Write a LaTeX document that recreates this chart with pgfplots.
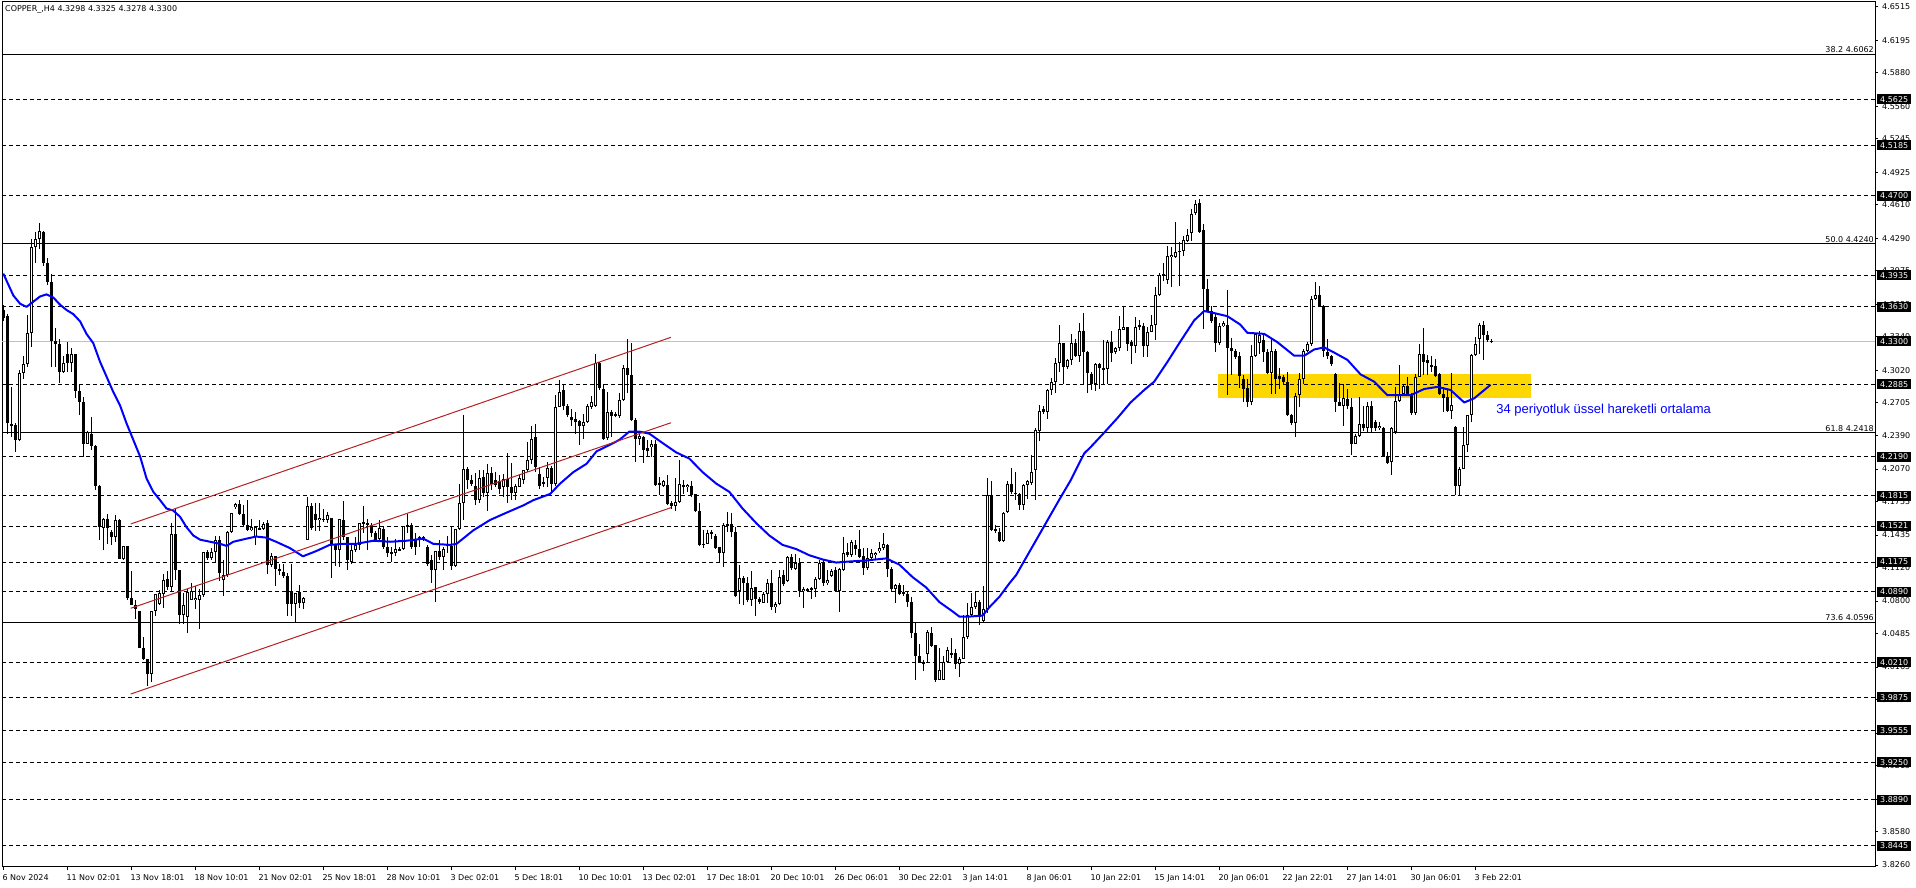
\documentclass[border=0pt]{standalone}
\usepackage{fontspec}
\setmainfont{DejaVu Sans}
\newfontfamily\notefont{Liberation Sans}
\usepackage{pgfplots}
\usepackage{pgfplotstable}
\pgfplotsset{compat=1.18}

\definecolor{emablue}{RGB}{0,0,255}
\definecolor{zonegold}{RGB}{255,215,0}
\definecolor{chanred}{RGB}{178,34,34}
\definecolor{pricegray}{RGB}{192,192,192}

% COPPER H4 candles: bar index, open, high, low, close
\pgfplotstableread{
i o h l c
0 4.360 4.365 4.349 4.352
1 4.354 4.356 4.241 4.251
2 4.250 4.286 4.238 4.249
3 4.249 4.251 4.223 4.235
4 4.235 4.302 4.234 4.299
5 4.299 4.316 4.294 4.308
6 4.308 4.355 4.305 4.338
7 4.338 4.428 4.324 4.421
8 4.421 4.435 4.405 4.428
9 4.428 4.444 4.419 4.436
10 4.435 4.436 4.402 4.405
11 4.405 4.410 4.384 4.387
12 4.387 4.395 4.305 4.330
13 4.330 4.343 4.305 4.327
14 4.327 4.332 4.290 4.300
15 4.300 4.316 4.299 4.309
16 4.318 4.329 4.300 4.309
17 4.309 4.323 4.300 4.318
18 4.318 4.318 4.275 4.282
19 4.282 4.288 4.259 4.271
20 4.271 4.276 4.219 4.231
21 4.231 4.244 4.231 4.243
22 4.241 4.257 4.225 4.229
23 4.229 4.230 4.187 4.191
24 4.191 4.192 4.139 4.151
25 4.150 4.160 4.129 4.159
26 4.159 4.164 4.135 4.150
27 4.146 4.148 4.134 4.142
28 4.142 4.163 4.137 4.158
29 4.158 4.159 4.120 4.120
30 4.120 4.133 4.119 4.133
31 4.133 4.133 4.081 4.083
32 4.083 4.109 4.076 4.076
33 4.076 4.081 4.063 4.072
34 4.070 4.070 4.035 4.035
35 4.035 4.045 4.023 4.024
36 4.024 4.024 3.998 4.010
37 4.010 4.070 4.002 4.070
38 4.070 4.087 4.066 4.087
39 4.077 4.091 4.076 4.088
40 4.087 4.106 4.073 4.100
41 4.101 4.109 4.091 4.093
42 4.093 4.155 4.089 4.144
43 4.144 4.169 4.100 4.110
44 4.110 4.110 4.058 4.067
45 4.067 4.088 4.058 4.076
46 4.065 4.092 4.049 4.089
47 4.081 4.097 4.081 4.090
48 4.081 4.094 4.072 4.083
49 4.081 4.092 4.053 4.086
50 4.086 4.127 4.084 4.127
51 4.127 4.129 4.119 4.121
52 4.121 4.131 4.119 4.127
53 4.127 4.143 4.118 4.139
54 4.139 4.143 4.099 4.107
55 4.100 4.119 4.085 4.105
56 4.105 4.147 4.103 4.146
57 4.146 4.165 4.145 4.165
58 4.170 4.174 4.169 4.173
59 4.173 4.177 4.163 4.164
60 4.164 4.172 4.152 4.153
61 4.153 4.177 4.147 4.148
62 4.148 4.159 4.147 4.151
63 4.142 4.151 4.134 4.151
64 4.150 4.158 4.148 4.149
65 4.149 4.156 4.148 4.154
66 4.155 4.158 4.106 4.115
67 4.115 4.126 4.113 4.123
68 4.123 4.123 4.094 4.111
69 4.111 4.116 4.105 4.109
70 4.108 4.116 4.102 4.104
71 4.104 4.107 4.066 4.077
72 4.089 4.116 4.066 4.077
73 4.077 4.088 4.059 4.088
74 4.089 4.095 4.073 4.078
75 4.078 4.084 4.072 4.083
76 4.139 4.180 4.139 4.171
77 4.171 4.174 4.148 4.150
78 4.164 4.174 4.147 4.158
79 4.158 4.174 4.147 4.160
80 4.159 4.169 4.156 4.158
81 4.158 4.166 4.155 4.163
82 4.160 4.160 4.102 4.134
83 4.134 4.135 4.114 4.129
84 4.129 4.159 4.113 4.159
85 4.158 4.176 4.139 4.142
86 4.142 4.142 4.110 4.119
87 4.118 4.135 4.116 4.129
88 4.129 4.142 4.127 4.134
89 4.134 4.155 4.129 4.155
90 4.155 4.171 4.145 4.156
91 4.155 4.159 4.129 4.153
92 4.153 4.155 4.142 4.145
93 4.145 4.147 4.137 4.139
94 4.140 4.158 4.138 4.150
95 4.149 4.151 4.130 4.132
96 4.132 4.142 4.122 4.126
97 4.127 4.132 4.118 4.126
98 4.126 4.140 4.123 4.130
99 4.130 4.132 4.128 4.129
100 4.130 4.152 4.129 4.152
101 4.153 4.164 4.145 4.152
102 4.153 4.155 4.130 4.132
103 4.139 4.145 4.124 4.132
104 4.139 4.143 4.132 4.142
105 4.142 4.143 4.138 4.139
106 4.132 4.134 4.114 4.116
107 4.119 4.124 4.097 4.110
108 4.110 4.128 4.079 4.128
109 4.128 4.139 4.119 4.122
110 4.122 4.132 4.110 4.130
111 4.135 4.143 4.126 4.133
112 4.133 4.151 4.110 4.114
113 4.114 4.149 4.113 4.149
114 4.149 4.193 4.148 4.174
115 4.174 4.259 4.158 4.207
116 4.207 4.209 4.188 4.196
117 4.196 4.201 4.191 4.193
118 4.191 4.203 4.172 4.177
119 4.177 4.206 4.174 4.198
120 4.199 4.206 4.180 4.184
121 4.184 4.212 4.167 4.203
122 4.203 4.209 4.187 4.193
123 4.196 4.204 4.190 4.192
124 4.195 4.201 4.183 4.188
125 4.190 4.202 4.180 4.197
126 4.197 4.222 4.174 4.190
127 4.190 4.213 4.177 4.184
128 4.184 4.193 4.177 4.191
129 4.190 4.201 4.190 4.198
130 4.196 4.206 4.193 4.206
131 4.206 4.233 4.204 4.216
132 4.216 4.248 4.212 4.236
133 4.238 4.250 4.204 4.209
134 4.202 4.209 4.188 4.191
135 4.194 4.199 4.190 4.193
136 4.198 4.214 4.190 4.208
137 4.208 4.210 4.183 4.193
138 4.193 4.278 4.191 4.267
139 4.267 4.293 4.267 4.281
140 4.283 4.289 4.264 4.268
141 4.268 4.270 4.257 4.259
142 4.257 4.265 4.248 4.254
143 4.255 4.262 4.241 4.252
144 4.253 4.254 4.230 4.248
145 4.248 4.260 4.236 4.252
146 4.252 4.270 4.251 4.268
147 4.267 4.277 4.265 4.271
148 4.268 4.318 4.267 4.309
149 4.309 4.310 4.283 4.285
150 4.284 4.289 4.235 4.236
151 4.237 4.281 4.235 4.262
152 4.262 4.264 4.238 4.258
153 4.260 4.262 4.257 4.258
154 4.258 4.280 4.256 4.273
155 4.273 4.307 4.272 4.304
156 4.304 4.332 4.280 4.297
157 4.297 4.328 4.253 4.254
158 4.254 4.256 4.214 4.236
159 4.236 4.242 4.230 4.239
160 4.238 4.239 4.213 4.225
161 4.227 4.235 4.219 4.224
162 4.228 4.235 4.219 4.231
163 4.231 4.235 4.191 4.192
164 4.193 4.199 4.182 4.192
165 4.191 4.196 4.190 4.195
166 4.192 4.201 4.172 4.173
167 4.174 4.176 4.169 4.171
168 4.171 4.198 4.167 4.175
169 4.175 4.216 4.174 4.193
170 4.192 4.196 4.183 4.190
171 4.190 4.193 4.185 4.192
172 4.191 4.195 4.180 4.182
173 4.183 4.183 4.166 4.167
174 4.167 4.174 4.133 4.134
175 4.134 4.148 4.131 4.135
176 4.135 4.148 4.135 4.145
177 4.146 4.148 4.140 4.144
178 4.143 4.144 4.130 4.131
179 4.132 4.132 4.118 4.126
180 4.126 4.155 4.113 4.153
181 4.153 4.166 4.146 4.154
182 4.154 4.165 4.142 4.146
183 4.146 4.151 4.084 4.085
184 4.090 4.115 4.077 4.102
185 4.102 4.104 4.076 4.097
186 4.097 4.103 4.079 4.081
187 4.081 4.109 4.075 4.093
188 4.093 4.093 4.066 4.082
189 4.082 4.084 4.077 4.079
190 4.078 4.089 4.078 4.087
191 4.087 4.101 4.078 4.097
192 4.097 4.110 4.071 4.074
193 4.074 4.079 4.068 4.077
194 4.077 4.110 4.076 4.103
195 4.105 4.110 4.094 4.096
196 4.099 4.123 4.098 4.122
197 4.122 4.125 4.110 4.112
198 4.111 4.125 4.110 4.117
199 4.117 4.121 4.084 4.090
200 4.090 4.093 4.073 4.092
201 4.092 4.093 4.089 4.090
202 4.092 4.093 4.082 4.091
203 4.092 4.103 4.084 4.101
204 4.101 4.119 4.100 4.117
205 4.117 4.119 4.094 4.097
206 4.097 4.110 4.095 4.100
207 4.104 4.111 4.103 4.109
208 4.110 4.113 4.089 4.090
209 4.090 4.112 4.069 4.111
210 4.110 4.142 4.109 4.126
211 4.127 4.136 4.122 4.124
212 4.124 4.139 4.122 4.137
213 4.134 4.139 4.124 4.130
214 4.130 4.148 4.121 4.122
215 4.123 4.131 4.105 4.112
216 4.112 4.131 4.110 4.121
217 4.121 4.130 4.119 4.126
218 4.124 4.127 4.119 4.126
219 4.128 4.137 4.126 4.131
220 4.131 4.145 4.129 4.135
221 4.134 4.135 4.103 4.111
222 4.111 4.113 4.090 4.092
223 4.092 4.096 4.078 4.095
224 4.095 4.097 4.086 4.087
225 4.089 4.095 4.085 4.087
226 4.087 4.089 4.074 4.079
227 4.079 4.084 4.044 4.049
228 4.049 4.060 4.004 4.027
229 4.027 4.039 4.020 4.020
230 4.021 4.023 4.013 4.020
231 4.029 4.052 4.021 4.050
232 4.049 4.055 4.036 4.037
233 4.038 4.038 4.002 4.004
234 4.004 4.035 4.004 4.014
235 4.004 4.027 4.004 4.021
236 4.021 4.036 4.020 4.033
237 4.030 4.044 4.025 4.029
238 4.030 4.034 4.015 4.019
239 4.019 4.026 4.007 4.024
240 4.024 4.067 4.024 4.045
241 4.045 4.078 4.043 4.067
242 4.067 4.088 4.065 4.074
243 4.074 4.089 4.072 4.079
244 4.079 4.081 4.057 4.065
245 4.061 4.094 4.060 4.072
246 4.072 4.198 4.068 4.182
247 4.182 4.195 4.147 4.148
248 4.149 4.153 4.145 4.147
249 4.146 4.150 4.137 4.138
250 4.138 4.166 4.137 4.165
251 4.166 4.195 4.165 4.193
252 4.193 4.208 4.183 4.185
253 4.184 4.204 4.177 4.183
254 4.183 4.184 4.168 4.172
255 4.172 4.193 4.168 4.192
256 4.192 4.196 4.178 4.195
257 4.194 4.220 4.192 4.204
258 4.206 4.246 4.177 4.245
259 4.244 4.269 4.234 4.263
260 4.265 4.268 4.260 4.262
261 4.262 4.284 4.255 4.283
262 4.283 4.295 4.278 4.291
263 4.291 4.314 4.280 4.309
264 4.309 4.346 4.300 4.328
265 4.328 4.328 4.289 4.305
266 4.305 4.313 4.303 4.312
267 4.312 4.337 4.307 4.328
268 4.328 4.332 4.315 4.316
269 4.316 4.347 4.310 4.340
270 4.340 4.357 4.288 4.320
271 4.320 4.321 4.280 4.299
272 4.298 4.300 4.283 4.289
273 4.289 4.309 4.282 4.308
274 4.308 4.309 4.284 4.304
275 4.304 4.331 4.289 4.303
276 4.303 4.331 4.289 4.329
277 4.329 4.340 4.310 4.319
278 4.320 4.324 4.318 4.323
279 4.323 4.354 4.321 4.342
280 4.341 4.364 4.341 4.344
281 4.344 4.344 4.321 4.327
282 4.329 4.331 4.308 4.325
283 4.325 4.353 4.319 4.344
284 4.344 4.350 4.341 4.345
285 4.345 4.347 4.315 4.325
286 4.325 4.344 4.315 4.339
287 4.339 4.355 4.339 4.346
288 4.346 4.382 4.331 4.374
289 4.374 4.396 4.373 4.394
290 4.395 4.405 4.388 4.393
291 4.389 4.422 4.385 4.412
292 4.411 4.421 4.382 4.413
293 4.411 4.445 4.410 4.416
294 4.416 4.425 4.383 4.417
295 4.417 4.431 4.412 4.427
296 4.426 4.438 4.425 4.432
297 4.434 4.457 4.426 4.452
298 4.453 4.466 4.451 4.462
299 4.463 4.467 4.434 4.435
300 4.437 4.443 4.342 4.380
301 4.380 4.390 4.358 4.359
302 4.359 4.364 4.347 4.349
303 4.353 4.357 4.320 4.328
304 4.328 4.347 4.326 4.345
305 4.345 4.349 4.344 4.347
306 4.346 4.379 4.278 4.323
307 4.323 4.333 4.297 4.321
308 4.321 4.322 4.313 4.315
309 4.316 4.320 4.285 4.296
310 4.294 4.297 4.271 4.284
311 4.285 4.294 4.267 4.271
312 4.271 4.326 4.269 4.316
313 4.316 4.337 4.315 4.337
314 4.328 4.340 4.318 4.336
315 4.331 4.336 4.310 4.320
316 4.320 4.322 4.298 4.299
317 4.299 4.332 4.279 4.321
318 4.321 4.322 4.279 4.294
319 4.296 4.304 4.284 4.294
320 4.296 4.297 4.289 4.291
321 4.291 4.300 4.258 4.259
322 4.259 4.260 4.249 4.251
323 4.251 4.280 4.238 4.277
324 4.278 4.299 4.267 4.294
325 4.294 4.322 4.289 4.321
326 4.321 4.329 4.320 4.327
327 4.327 4.373 4.325 4.371
328 4.371 4.387 4.370 4.374
329 4.374 4.383 4.363 4.364
330 4.364 4.365 4.315 4.321
331 4.320 4.332 4.313 4.316
332 4.316 4.317 4.306 4.308
333 4.298 4.299 4.262 4.271
334 4.271 4.290 4.268 4.268
335 4.268 4.289 4.248 4.275
336 4.274 4.284 4.265 4.268
337 4.267 4.275 4.220 4.231
338 4.231 4.241 4.231 4.239
339 4.239 4.276 4.238 4.250
340 4.250 4.268 4.244 4.246
341 4.246 4.271 4.243 4.268
342 4.268 4.272 4.242 4.246
343 4.252 4.254 4.244 4.246
344 4.246 4.252 4.245 4.248
345 4.246 4.247 4.219 4.220
346 4.220 4.223 4.212 4.213
347 4.214 4.247 4.201 4.246
348 4.243 4.286 4.241 4.272
349 4.272 4.307 4.271 4.278
350 4.279 4.288 4.278 4.287
351 4.287 4.296 4.278 4.279
352 4.278 4.280 4.259 4.261
353 4.261 4.298 4.259 4.296
354 4.296 4.327 4.296 4.318
355 4.318 4.343 4.297 4.310
356 4.312 4.317 4.297 4.309
357 4.307 4.316 4.300 4.306
358 4.306 4.313 4.296 4.296
359 4.298 4.299 4.278 4.279
360 4.279 4.286 4.262 4.275
361 4.276 4.284 4.262 4.263
362 4.263 4.299 4.255 4.269
363 4.247 4.248 4.182 4.191
364 4.191 4.209 4.182 4.207
365 4.207 4.247 4.207 4.230
366 4.230 4.259 4.223 4.259
367 4.259 4.318 4.252 4.317
368 4.317 4.334 4.316 4.327
369 4.332 4.347 4.318 4.346
370 4.346 4.349 4.312 4.336
371 4.336 4.340 4.329 4.331
372 4.3298 4.3325 4.3278 4.3300
}\candles

\begin{document}
\begin{tikzpicture}
\useasboundingbox (-2pt,-21pt) rectangle (1914pt,867pt);
\begin{axis}[
    at={(0pt,0pt)}, anchor=south west,
    scale only axis,
    width=1873pt, height=865pt,
    xmin=-0.325, xmax=467.9,
    ymin=3.8241, ymax=4.6563,
    clip mode=individual,
    axis line style={line width=1pt},
    tick style={black, line width=1pt},
    tick align=outside,
    major tick length=3pt,
    xtick pos=bottom, ytick pos=right,
    yticklabel pos=right,
    xtick={0,16,...,368},
    xticklabels={6 Nov 2024, 11 Nov 02:01, 13 Nov 18:01, 18 Nov 10:01, 21 Nov 02:01, 25 Nov 18:01, 28 Nov 10:01, 3 Dec 02:01, 5 Dec 18:01, 10 Dec 10:01, 13 Dec 02:01, 17 Dec 18:01, 20 Dec 10:01, 26 Dec 06:01, 30 Dec 22:01, 3 Jan 14:01, 8 Jan 06:01, 10 Jan 22:01, 15 Jan 14:01, 20 Jan 06:01, 22 Jan 22:01, 27 Jan 14:01, 30 Jan 06:01, 3 Feb 22:01},
    ytick={4.6515,4.6195,4.5880,4.5560,4.5245,4.4925,4.4610,4.4290,4.3975,4.3655,4.3340,4.3020,4.2705,4.2390,4.2070,4.1755,4.1435,4.1120,4.0800,4.0485,4.0165,3.9850,3.9530,3.9215,3.8895,3.8580,3.8260},
    yticklabels={4.6515,4.6195,4.5880,4.5560,4.5245,4.4925,4.4610,4.4290,4.3975,4.3655,4.3340,4.3020,4.2705,4.2390,4.2070,4.1755,4.1435,4.1120,4.0800,4.0485,4.0165,3.9850,3.9530,3.9215,3.8895,3.8580,3.8260},
    ticklabel style={font=\fontsize{8}{9}\selectfont},
    xticklabel style={anchor=north west, inner sep=0pt, xshift=-1pt, yshift=-4pt},
    yticklabel style={anchor=west, inner sep=0pt, xshift=4pt},
]

% support zone
\addplot[fill=zonegold, draw=none, forget plot] coordinates {(303.7,4.2753) (381.9,4.2753) (381.9,4.2984) (303.7,4.2984)} -- cycle;

% horizontal levels
\pgfplotsinvokeforeach{4.5625,4.5185,4.4700,4.3935,4.3630,4.2885,4.2190,4.1815,4.1521,4.1175,4.0890,4.0210,3.9875,3.9555,3.9250,3.8890,3.8445}{
  \addplot[black, line width=1pt, dash pattern=on 4pt off 3pt, forget plot] coordinates {(-0.325,#1) (467.9,#1)};
}
\pgfplotsinvokeforeach{4.6062,4.4240,4.2418,4.0596}{
  \addplot[black, line width=1pt, forget plot] coordinates {(-0.325,#1) (467.9,#1)};
}
\addplot[pricegray, line width=1pt, forget plot] coordinates {(-0.325,4.3300) (467.9,4.3300)};

% candles: wicks, bodies, hollow up bodies
\addplot[draw=none, mark=none, forget plot,
    error bars/.cd, y dir=both, y explicit, error mark=none,
    error bar style={draw=black, solid, line width=1pt}]
  table[x=i, y expr={(\thisrow{h}+\thisrow{l})/2}, y error expr={(\thisrow{h}-\thisrow{l})/2}] {\candles};
\addplot[draw=none, mark=none, forget plot,
    error bars/.cd, y dir=both, y explicit, error mark=none,
    error bar style={draw=black, solid, line width=3pt}]
  table[x=i, y expr={(\thisrow{o}+\thisrow{c})/2}, y error expr={max(abs(\thisrow{c}-\thisrow{o})/2,0.0006)}] {\candles};
\addplot[draw=none, mark=none, forget plot,
    error bars/.cd, y dir=both, y explicit, error mark=none,
    error bar style={draw=white, solid, line width=1pt}]
  table[x=i, y expr={(\thisrow{o}+\thisrow{c})/2}, y error expr={max((\thisrow{c}-\thisrow{o})/2-0.00096,0)}] {\candles};

% 34 EMA
\addplot[emablue, line width=2pt, mark=none, line join=round] coordinates {
(0,4.395) (2.5,4.374) (4.2,4.366) (5.8,4.363) (7.5,4.368) (9.2,4.373) (10.8,4.375) (12.5,4.372) (14.2,4.365) (15.8,4.360)
(17.5,4.356) (19.2,4.349) (20.8,4.337) (22.5,4.328) (24.2,4.310) (25.8,4.296) (27.5,4.281) (29.2,4.268) (30.8,4.251) (32.5,4.235)
(34.2,4.219) (35.8,4.198) (37.5,4.185) (39.2,4.177) (40.8,4.169) (42.5,4.167) (44.2,4.161) (45.8,4.151) (47.5,4.143) (49.2,4.139)
(51.7,4.137) (54.2,4.135) (55.8,4.133) (57.5,4.137) (60.8,4.140) (63.2,4.142) (65.7,4.141) (68.2,4.137) (71.6,4.131) (74.9,4.123)
(78.2,4.128) (81.6,4.134) (84.9,4.135) (88.2,4.135) (92.5,4.138) (96.7,4.137) (100.8,4.138) (105,4.140) (107.5,4.135) (111.7,4.134)
(113.3,4.135) (117.5,4.148) (121.7,4.158) (125.8,4.165) (130,4.172) (132.5,4.177) (136.7,4.183) (139.2,4.193) (142.5,4.204) (145.8,4.212)
(148.3,4.224) (151.5,4.230) (154,4.235) (156.5,4.243) (159,4.243) (161.5,4.241) (164.8,4.232) (168.2,4.223) (171.5,4.217) (174.8,4.204)
(178.2,4.193) (181.5,4.185) (184.8,4.169) (188.2,4.155) (191.5,4.143) (194.8,4.134) (198.2,4.130) (201.5,4.124) (204.8,4.120) (208.2,4.117)
(211.5,4.118) (215.7,4.119) (220.7,4.121) (224,4.115) (227.3,4.103) (230.7,4.093) (234,4.079) (237.3,4.070) (239,4.065) (241.5,4.065)
(244.8,4.066) (246.5,4.074) (249,4.084) (251.5,4.097) (253.2,4.105) (263.9,4.177) (266.8,4.196) (270.2,4.222) (271.8,4.228) (275.2,4.242)
(278.5,4.256) (281.8,4.271) (285.2,4.283) (287.7,4.291) (291,4.310) (294.3,4.330) (297.7,4.350) (300.2,4.359) (302.7,4.357) (306,4.354)
(309.2,4.346) (311,4.338) (315.2,4.337) (318.5,4.329) (322.7,4.316) (325.2,4.316) (327.7,4.322) (330.2,4.324) (332.7,4.319) (336,4.312)
(339.3,4.298) (342.7,4.291) (346,4.278) (349.3,4.278) (351.8,4.278) (355.2,4.284) (358.5,4.286) (361.8,4.283) (365.2,4.271) (367.7,4.275)
(371.8,4.288)
};

% channel
\addplot[chanred, line width=1pt, mark=none] coordinates {(31.85,4.1541) (166.9,4.3337)};
\addplot[chanred, line width=1pt, mark=none] coordinates {(31.85,4.0730) (166.9,4.2515)};
\addplot[chanred, line width=1pt, mark=none] coordinates {(31.85,3.9905) (166.9,4.1698)};

% anchors for the level price boxes (drawn after the axis, over the price scale)
\coordinate (bxa) at (axis cs:467.9,4.5625);
\coordinate (bxb) at (axis cs:467.9,4.5185);
\coordinate (bxc) at (axis cs:467.9,4.4700);
\coordinate (bxd) at (axis cs:467.9,4.3935);
\coordinate (bxe) at (axis cs:467.9,4.3630);
\coordinate (bxf) at (axis cs:467.9,4.3300);
\coordinate (bxg) at (axis cs:467.9,4.2885);
\coordinate (bxh) at (axis cs:467.9,4.2190);
\coordinate (bxi) at (axis cs:467.9,4.1815);
\coordinate (bxj) at (axis cs:467.9,4.1521);
\coordinate (bxk) at (axis cs:467.9,4.1175);
\coordinate (bxl) at (axis cs:467.9,4.0890);
\coordinate (bxm) at (axis cs:467.9,4.0210);
\coordinate (bxn) at (axis cs:467.9,3.9875);
\coordinate (bxo) at (axis cs:467.9,3.9555);
\coordinate (bxp) at (axis cs:467.9,3.9250);
\coordinate (bxq) at (axis cs:467.9,3.8890);
\coordinate (bxr) at (axis cs:467.9,3.8445);

% labels
\node[anchor=north west, inner sep=0pt, font=\fontsize{8}{9}\selectfont] at (rel axis cs:0,1) [xshift=3pt, yshift=-3pt] {COPPER\_,H4 4.3298 4.3325 4.3278 4.3300};
\node[anchor=south east, inner sep=1pt, font=\fontsize{8}{9}\selectfont] at (axis cs:467.9,4.6062) {38.2 4.6062};
\node[anchor=south east, inner sep=1pt, font=\fontsize{8}{9}\selectfont] at (axis cs:467.9,4.4240) {50.0 4.4240};
\node[anchor=south east, inner sep=1pt, font=\fontsize{8}{9}\selectfont] at (axis cs:467.9,4.2418) {61.8 4.2418};
\node[anchor=south east, inner sep=1pt, font=\fontsize{8}{9}\selectfont] at (axis cs:467.9,4.0596) {73.6 4.0596};
\node[anchor=west, inner sep=0pt, text=emablue, font=\notefont\fontsize{13}{15}\selectfont] at (axis cs:373.2,4.2638) {34 periyotluk üssel hareketli ortalama};
\end{axis}
\foreach \n/\v in {bxa/4.5625,bxb/4.5185,bxc/4.4700,bxd/4.3935,bxe/4.3630,bxf/4.3300,bxg/4.2885,bxh/4.2190,bxi/4.1815,bxj/4.1521,bxk/4.1175,bxl/4.0890,bxm/4.0210,bxn/3.9875,bxo/3.9555,bxp/3.9250,bxq/3.8890,bxr/3.8445}{
  \node[anchor=west, fill=black, text=white, inner xsep=3pt, inner ysep=0pt, minimum height=10pt,
        font=\fontsize{8}{9}\selectfont, xshift=2pt] at (\n) {\v};
}
\end{tikzpicture}
\end{document}
